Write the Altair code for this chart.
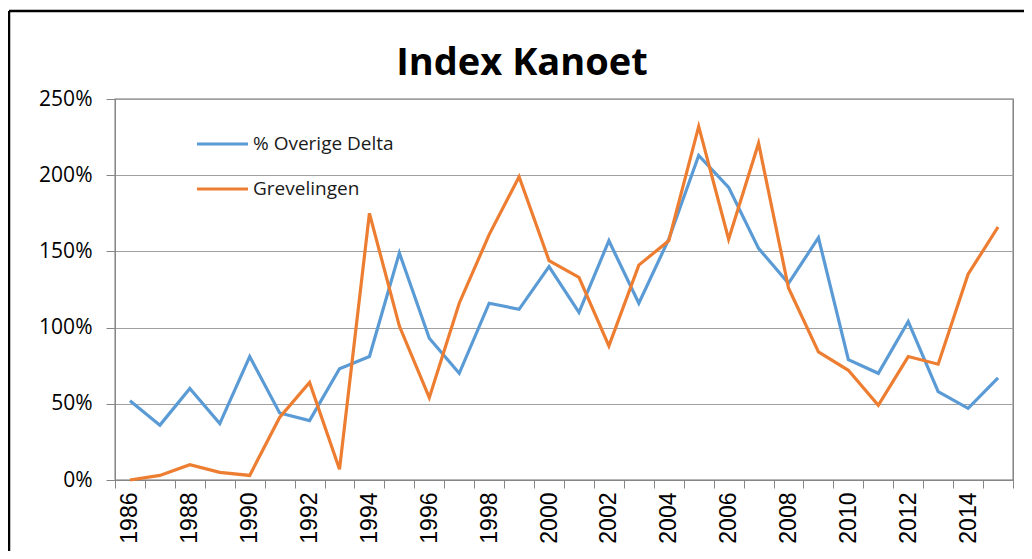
import altair as alt
import pandas as pd

years = list(range(1986, 2016))
overige_delta = [52, 36, 60, 37, 81, 44, 39, 73, 81, 149, 93, 70, 116, 112, 140,
                 110, 157, 116, 158, 213, 192, 152, 129, 159, 79, 70, 104, 58, 47, 67]
grevelingen = [0, 3, 10, 5, 3, 41, 64, 7, 175, 101, 54, 116, 161, 199, 144,
               133, 88, 141, 157, 232, 158, 221, 126, 84, 72, 49, 81, 76, 135, 166]
series_names = ["% Overige Delta", "Grevelingen"]
colors = ["#5B9BD5", "#ED7D31"]
y_ticks = [0, 50, 100, 150, 200, 250]
title_text = "Index Kanoet"

rows = []
for name, vals in zip(series_names, [overige_delta, grevelingen]):
    for yr, v in zip(years, vals):
        rows.append({"year": yr, "value": v, "series": name})
df = pd.DataFrame(rows)

W, H = 898, 381
PAD_L, PAD_T, PAD_R, PAD_B = 107, 91, 11, 71

lines = alt.Chart(df).mark_line(strokeWidth=3.2).encode(
    x=alt.X("year:O",
            scale=alt.Scale(type="band", paddingInner=0, paddingOuter=0),
            axis=alt.Axis(title=None, labelAngle=-90,
                          labelExpr="datum.value % 2 == 0 ? datum.label : ''",
                          tickBand="extent", tickSize=8, labelPadding=4,
                          labelFont="Liberation Sans", labelFontSize=23,
                          labelColor="#000000", grid=False,
                          domainColor="#868686", tickColor="#868686")),
    y=alt.Y("value:Q",
            scale=alt.Scale(domain=[0, 250]),
            axis=alt.Axis(title=None, values=y_ticks,
                          labelExpr="datum.value + '%'",
                          tickSize=9, labelPadding=14,
                          labelFont="Open Sans", labelFontSize=21,
                          labelColor="#000000",
                          gridColor="#A0A0A0", domainColor="#868686",
                          tickColor="#868686")),
    color=alt.Color("series:N", scale=alt.Scale(domain=series_names, range=colors),
                    legend=None),
)

layers = [lines]

legend_y = [45, 90]
for name, col, ly in zip(series_names, colors, legend_y):
    ld = pd.DataFrame({"series": [name]})
    layers.append(alt.Chart(ld).mark_rule(color=col, strokeWidth=3.2).encode(
        x=alt.value(82), x2=alt.value(133), y=alt.value(ly)))
    layers.append(alt.Chart(ld).mark_text(align="left", baseline="middle",
                                          font="Open Sans", fontSize=19,
                                          color="#1a1a1a").encode(
        x=alt.value(138), y=alt.value(ly), text="series:N"))

td = pd.DataFrame({"t": [title_text]})
layers.append(alt.Chart(td).mark_text(align="center", baseline="alphabetic",
                                      font="Open Sans", fontSize=38,
                                      fontWeight="bold", color="#000000").encode(
    x=alt.value(407), y=alt.value(-24), text="t:N"))

bd = pd.DataFrame({"b": [0]})
layers.append(alt.Chart(bd).mark_rule(color="#000000", strokeWidth=2.5).encode(
    x=alt.value(-106), x2=alt.value(W + PAD_R), y=alt.value(-88)))
layers.append(alt.Chart(bd).mark_rule(color="#000000", strokeWidth=2.5).encode(
    x=alt.value(-106), y=alt.value(-88), y2=alt.value(H + PAD_B)))

chart = alt.layer(*layers).properties(
    width=W, height=H,
    autosize=alt.AutoSizeParams(type="none"),
    padding={"left": PAD_L, "top": PAD_T, "right": PAD_R, "bottom": PAD_B},
).configure_view(stroke="#707070", strokeWidth=1.3)

chart.save("out.html", embed_options={"renderer": "svg", "actions": False})
